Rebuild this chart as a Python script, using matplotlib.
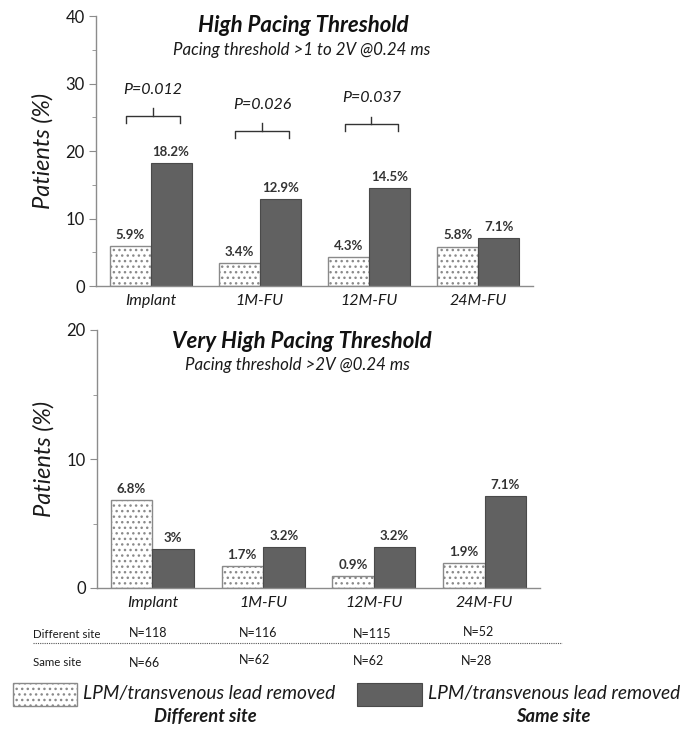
import matplotlib
matplotlib.use("Agg")
import matplotlib.pyplot as plt
import numpy as np
from matplotlib.patches import Rectangle

plt.rcParams['hatch.linewidth'] = 1.0
plt.rcParams['font.family'] = ['Lato', 'DejaVu Sans']

categories = ["Implant", "1M-FU", "12M-FU", "24M-FU"]

high_diff = [5.9, 3.4, 4.3, 5.8]
high_same = [18.2, 12.9, 14.5, 7.1]
high_diff_labels = ["5.9%", "3.4%", "4.3%", "5.8%"]
high_same_labels = ["18.2%", "12.9%", "14.5%", "7.1%"]

vhigh_diff = [6.8, 1.7, 0.9, 1.9]
vhigh_same = [3.0, 3.2, 3.2, 7.1]
vhigh_diff_labels = ["6.8%", "1.7%", "0.9%", "1.9%"]
vhigh_same_labels = ["3%", "3.2%", "3.2%", "7.1%"]

p_values = ["P=0.012", "P=0.026", "P=0.037"]
p_bracket_y = [25.2, 23.0, 24.0]

n_diff = ["N=118", "N=116", "N=115", "N=52"]
n_same = ["N=66", "N=62", "N=62", "N=28"]

DOT_FACE = "white"
DOT_EDGE = "#8a8a8a"
DARK_FACE = "#616161"
DARK_EDGE = "#4a4a4a"
AXIS_COL = "#8c8c8c"
TEXT_COL = "#1a1a1a"
DOT_HATCH = '...'

fig = plt.figure(figsize=(6.83, 7.30), dpi=100)
fig.patch.set_facecolor("white")

W, H = 683, 730


def fx(px):
    return px / W


def fy(py):
    return 1 - py / H


def draw_panel(ax, diff, same, dlab, slab, ymax):
    x = np.arange(len(categories))
    bw = 0.375
    ax.bar(x - bw / 2, diff, bw, facecolor=DOT_FACE, edgecolor=DOT_EDGE,
           hatch=DOT_HATCH, linewidth=1.0, zorder=2)
    ax.bar(x + bw / 2, same, bw, facecolor=DARK_FACE, edgecolor=DARK_EDGE,
           linewidth=0.8, zorder=2)
    off = ymax * 0.02
    for xi, v, t in zip(x - bw / 2, diff, dlab):
        ax.text(xi, v + off, t, ha='center', va='bottom', fontsize=9.5,
                fontweight='bold', color="#333333")
    for xi, v, t in zip(x + bw / 2, same, slab):
        ax.text(xi, v + off, t, ha='center', va='bottom', fontsize=9.5,
                fontweight='bold', color="#333333")
    ax.set_xlim(-0.5, 3.5)
    ax.set_ylim(0, ymax)
    ax.set_xticks(x)
    ax.set_xticklabels(categories, fontsize=11.5, style='italic', color=TEXT_COL)
    ax.tick_params(axis='x', length=0, pad=6)
    ax.set_yticks(np.arange(0, ymax + 1, 10))
    ax.set_yticks(np.arange(5, ymax, 5), minor=True)
    ax.tick_params(axis='y', which='major', length=5, color=AXIS_COL,
                   labelsize=12, labelcolor=TEXT_COL, pad=3)
    ax.tick_params(axis='y', which='minor', length=3, color=AXIS_COL)
    for s in ['top', 'right']:
        ax.spines[s].set_visible(False)
    for s in ['left', 'bottom']:
        ax.spines[s].set_color(AXIS_COL)
        ax.spines[s].set_linewidth(1.0)
    ax.set_ylabel("Patients (%)", fontsize=17, style='italic', color=TEXT_COL,
                  labelpad=9)
    ax.set_facecolor("none")


# Upper panel: high pacing threshold
ax1 = fig.add_axes([fx(96), fy(286), fx(533 - 96), (286 - 16) / H])
draw_panel(ax1, high_diff, high_same, high_diff_labels, high_same_labels, 40)

# Significance brackets
for i, (pt, yb) in enumerate(zip(p_values, p_bracket_y)):
    xc = i + 0.02
    hw = 0.245
    ax1.plot([xc - hw, xc - hw, xc + hw, xc + hw], [yb - 1.0, yb, yb, yb - 1.0],
             color="#333333", lw=1.0, solid_joinstyle='round', zorder=3)
    ax1.plot([xc, xc], [yb, yb + 1.1], color="#333333", lw=1.0, zorder=3)
    ax1.text(xc, yb + 3.8, pt, ha='center', va='center', fontsize=11.5,
             style='italic', color=TEXT_COL)

fig.text(fx(303), fy(25), "High Pacing Threshold", ha='center', va='center',
         fontsize=16, fontweight='bold', style='italic', color="#111111")
fig.text(fx(302), fy(50), "Pacing threshold >1 to 2V @0.24 ms", ha='center',
         va='center', fontsize=12.2, style='italic', color=TEXT_COL)

# Lower panel: very high pacing threshold
ax2 = fig.add_axes([fx(97), fy(588), fx(540 - 97), (588 - 330) / H])
draw_panel(ax2, vhigh_diff, vhigh_same, vhigh_diff_labels, vhigh_same_labels, 20)

fig.text(fx(302), fy(342), "Very High Pacing Threshold", ha='center', va='center',
         fontsize=16, fontweight='bold', style='italic', color="#111111")
fig.text(fx(297), fy(365), "Pacing threshold >2V @0.24 ms", ha='center',
         va='center', fontsize=12.2, style='italic', color=TEXT_COL)

# Patient counts per group
fig.text(fx(33), fy(635), "Different site", ha='left', va='center', fontsize=8.3,
         color=TEXT_COL)
fig.text(fx(33), fy(662), "Same site", ha='left', va='center', fontsize=8.3,
         color=TEXT_COL)
n_x_diff = [148, 258, 372, 479]
n_y_diff = [633, 633, 634, 632]
n_x_same = [145, 254, 368, 476]
n_y_same = [663, 660, 661, 661]
for xp, yp, t in zip(n_x_diff, n_y_diff, n_diff):
    fig.text(fx(xp), fy(yp), t, ha='center', va='center', fontsize=9, color=TEXT_COL)
for xp, yp, t in zip(n_x_same, n_y_same, n_same):
    fig.text(fx(xp), fy(yp), t, ha='center', va='center', fontsize=9, color=TEXT_COL)
fig.add_artist(plt.Line2D([fx(33), fx(562)], [fy(643), fy(643)], color="#555555",
                          lw=0.8, linestyle=(0, (1, 1))))

# Legend
fig.add_artist(Rectangle((fx(13), fy(706)), fx(77 - 13), (706 - 683) / H,
                         facecolor=DOT_FACE, edgecolor=DOT_EDGE, hatch=DOT_HATCH,
                         linewidth=1.0, transform=fig.transFigure))
fig.add_artist(Rectangle((fx(357), fy(706)), fx(422 - 357), (706 - 683) / H,
                         facecolor=DARK_FACE, edgecolor=DARK_EDGE,
                         linewidth=0.8, transform=fig.transFigure))
fig.text(fx(83), fy(693), "LPM/transvenous lead removed", ha='left', va='center',
         fontsize=13.8, style='italic', color=TEXT_COL)
fig.text(fx(205), fy(716), "Different site", ha='center', va='center',
         fontsize=13.2, style='italic', fontweight='bold', color=TEXT_COL)
fig.text(fx(428), fy(693), "LPM/transvenous lead removed", ha='left', va='center',
         fontsize=13.8, style='italic', color=TEXT_COL)
fig.text(fx(553), fy(716), "Same site", ha='center', va='center',
         fontsize=13.2, style='italic', fontweight='bold', color=TEXT_COL)

fig.savefig("out.png", dpi=100, facecolor="white")
